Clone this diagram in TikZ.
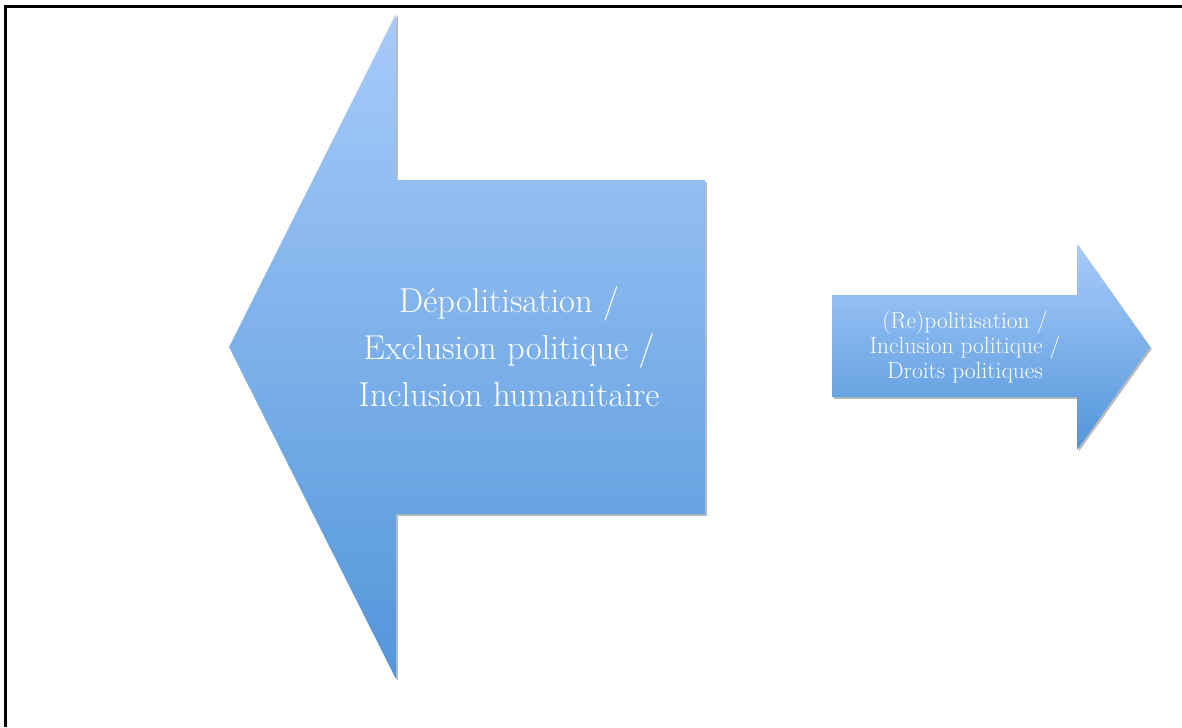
\documentclass[tikz,border=0pt]{standalone}
\usepackage{tikz}
\usetikzlibrary{shadows}

\definecolor{arrowtop}{RGB}{168,203,250}
\definecolor{arrowbottom}{RGB}{82,150,218}

\begin{document}
\begin{tikzpicture}[
            x=0.03cm,y=-0.03cm,
            every node/.append style={white,align=center},
            arrowfill/.style={top color=arrowtop,bottom color=arrowbottom,draw=none,
                drop shadow={shadow xshift=1.5pt,shadow yshift=-1.5pt,
                    top color=black!70,bottom color=black!70,opacity=0.25}},
            frameline/.style={black,line width=0.09cm}
        ]
            \useasboundingbox (0,0) rectangle (1182,727);
            \draw[frameline] (5,727) -- (5,6) -- (1182,6);

            % left arrow
            \coordinate (ltip) at (229,347);
            \coordinate (lhead) at (396,14);
            \coordinate (lshaft) at (705,180);
            \path[arrowfill] (ltip) -- (lhead) -- (lhead |- lshaft) -- (lshaft)
                -- (705,514) -- (396,514) -- (396,679) -- cycle;
            \node[font=\fontsize{29.5}{40}\selectfont] (depol) at (509,347)
                {Dépolitisation /\\ Exclusion politique /\\ Inclusion humanitaire};

            % right arrow
            \coordinate (rtip) at (1150,347);
            \coordinate (rhead) at (1077,244);
            \coordinate (rshaft) at (832,295);
            \path[arrowfill] (rshaft) -- (rhead |- rshaft) -- (rhead) -- (rtip)
                -- (1077,450) -- (1077,397) -- (832,397) -- cycle;
            \node[font=\fontsize{20}{21.3}\selectfont] (repol) at (965,347)
                {(Re)politisation /\\ Inclusion politique /\\ Droits politiques};
        \end{tikzpicture}
\end{document}
